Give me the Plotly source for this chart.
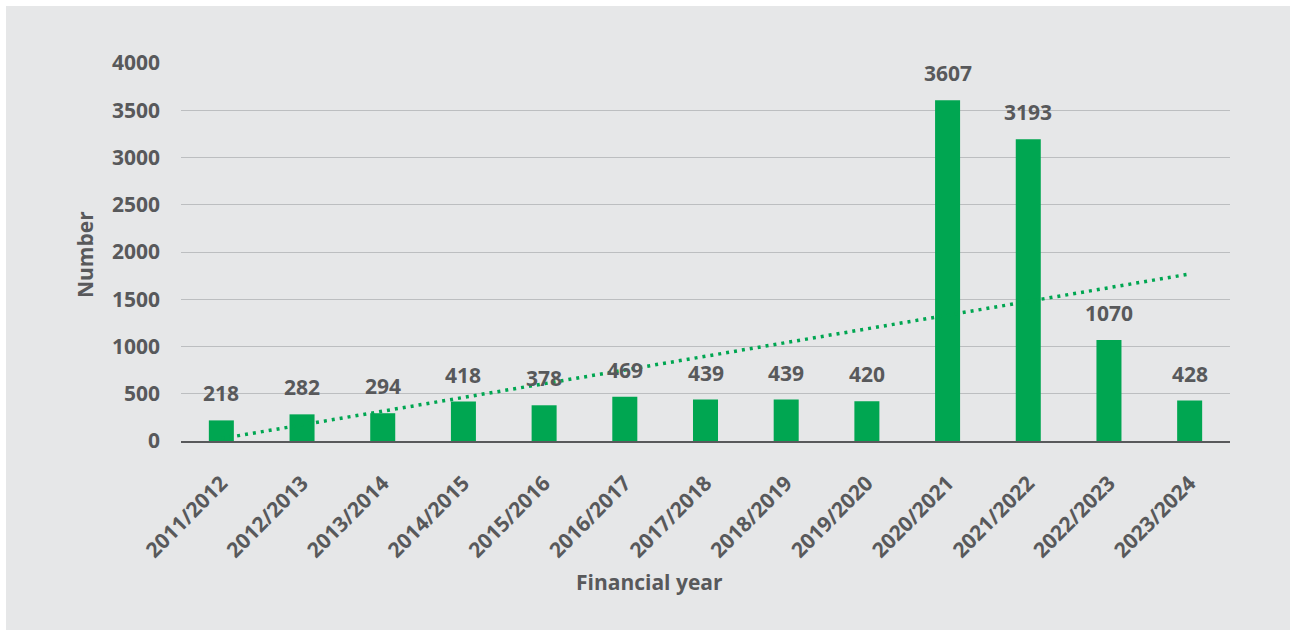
import numpy as np
import plotly.graph_objects as go

# Financial years and counts
years = ["2011/2012", "2012/2013", "2013/2014", "2014/2015", "2015/2016",
         "2016/2017", "2017/2018", "2018/2019", "2019/2020", "2020/2021",
         "2021/2022", "2022/2023", "2023/2024"]
counts = [218, 282, 294, 418, 378, 469, 439, 439, 420, 3607, 3193, 1070, 428]
y_ticks = [0, 500, 1000, 1500, 2000, 2500, 3000, 3500, 4000]

GREEN = "#00a651"
TEXT = "#58595b"
PANEL = "#e6e7e8"
GRID = "#bcbec0"
FONT = "Open Sans"
FSIZE = 21

W, H = 1290, 630
L, R, T, B = 181, 60, 63, 189
pw, ph = W - L - R, H - T - B

# linear trend line fitted to the counts
idx = np.arange(len(counts))
slope, intercept = np.polyfit(idx, counts, 1)
trend = intercept + slope * idx

fig = go.Figure()

fig.add_trace(go.Scatter(
    x=years, y=trend, mode="lines",
    line=dict(color=GREEN, width=3.5, dash="3px,5px"),
    hoverinfo="skip", showlegend=False,
))

fig.add_trace(go.Bar(
    x=years, y=counts, marker=dict(color=GREEN, line=dict(width=0)),
    showlegend=False,
))

# value labels above each bar
for yr, v in zip(years, counts):
    fig.add_annotation(
        x=yr, y=v, text=str(v), showarrow=False,
        yanchor="middle", yshift=27,
        font=dict(family=FONT, size=FSIZE, color=TEXT, weight=700),
    )

def px_x(p):
    return (p - L) / pw

def px_y(p):
    return (H - B - p) / ph

# grey panel behind the chart
fig.add_shape(
    type="rect", xref="paper", yref="paper", layer="below",
    x0=px_x(6), x1=px_x(W + 5), y0=px_y(H + 5), y1=px_y(6),
    fillcolor=PANEL, line=dict(width=0),
)

fig.add_annotation(
    xref="paper", yref="paper", x=px_x(649), y=px_y(582),
    text="Financial year", showarrow=False,
    xanchor="center", yanchor="middle",
    font=dict(family=FONT, size=FSIZE, color=TEXT, weight=700),
)
fig.add_annotation(
    xref="paper", yref="paper", x=px_x(85), y=px_y(255),
    text="Number", showarrow=False, textangle=-90,
    xanchor="center", yanchor="middle",
    font=dict(family=FONT, size=FSIZE, color=TEXT, weight=700),
)

fig.update_layout(
    width=W, height=H,
    margin=dict(l=L, r=R, t=T, b=B, pad=0),
    paper_bgcolor="white", plot_bgcolor="rgba(0,0,0,0)",
    bargap=0.69,
    font=dict(family=FONT, size=FSIZE, color=TEXT, weight=700),
    xaxis=dict(
        type="category", tickangle=-45, showgrid=False,
        showline=True, linecolor=TEXT, linewidth=1.5,
        ticks="", ticklabelstandoff=20,
        tickfont=dict(family=FONT, size=FSIZE, color=TEXT, weight=700),
    ),
    yaxis=dict(
        range=[0, 4000], tickvals=y_ticks, showgrid=True,
        gridcolor=GRID, gridwidth=1, zeroline=False,
        showline=False, ticks="", ticklabelstandoff=20,
        tickfont=dict(family=FONT, size=FSIZE, color=TEXT, weight=700),
    ),
)

fig.write_html("out.html")
